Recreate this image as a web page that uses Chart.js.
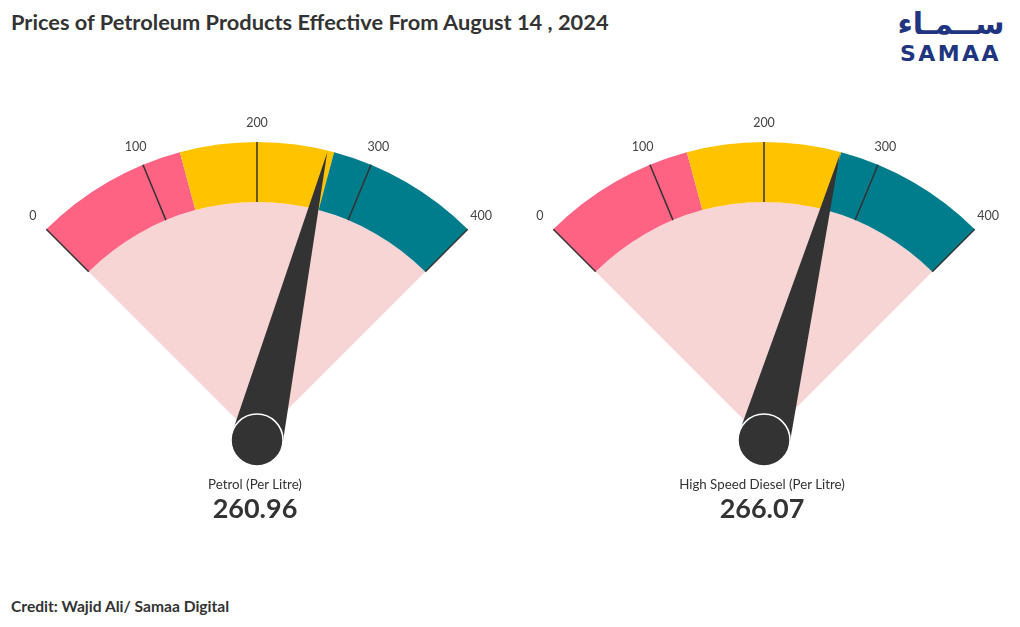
<!DOCTYPE html>
<html>
<head>
<meta charset="utf-8">
<script src="https://cdn.jsdelivr.net/npm/chart.js@4.4.1/dist/chart.umd.min.js"></script>
<style>
  html, body { margin: 0; padding: 0; background: #fff; }
  body { width: 1020px; height: 627px; position: relative; overflow: hidden; font-family: "Lato", "Noto Sans", sans-serif; color: #333; }
  #title { position: absolute; left: 11px; top: 8px; font-size: 21.8px; font-weight: 700; color: #333; white-space: nowrap; }
  #credit { position: absolute; left: 11px; top: 597px; font-size: 15.6px; font-weight: 700; color: #333; white-space: nowrap; }
  .gc { position: absolute; top: 0; width: 510px; height: 627px; }
  .lbl { position: absolute; width: 510px; text-align: center; }
  .name { top: 476px; font-size: 13.3px; color: #333; }
  .val { top: 491px; font-size: 27px; font-weight: 700; color: #333; }
  #logoAr { position: absolute; left: 895px; top: 6px; width: 112px; text-align: center; font-family: "DejaVu Sans", sans-serif; font-weight: 700; font-size: 30px; color: #1f3580; direction: rtl; }
  #logoEn { position: absolute; left: 900px; top: 41px; font-family: "DejaVu Sans", sans-serif; font-weight: 700; font-size: 22px; color: #1f3580; letter-spacing: 2.4px; }
</style>
</head>
<body>
<div id="title">Prices of Petroleum Products Effective From August 14 , 2024</div>
<div id="logoAr">ســمـاء</div>
<div id="logoEn">SAMAA</div>
<div id="credit">Credit: Wajid Ali/ Samaa Digital</div>

<div class="gc" style="left:0px;"><canvas id="g0" width="510" height="627"></canvas>
  <div class="lbl name" id="n0"></div><div class="lbl val" id="v0"></div></div>
<div class="gc" style="left:507px;"><canvas id="g1" width="510" height="627"></canvas>
  <div class="lbl name" id="n1"></div><div class="lbl val" id="v1"></div></div>

<script>
// ---- data ----
const gaugeNames = ['Petrol (Per Litre)', 'High Speed Diesel (Per Litre)'];
const gaugeValues = [260.96, 266.07];
const bandLimits = [0, 133.33, 266.67, 400];
const bandColors = ['#ff6384', '#ffc300', '#007d8c'];
const tickValues = [0, 100, 200, 300, 400];
const tickLabels = ['0', '100', '200', '300', '400'];

const scaleMin = bandLimits[0];
const scaleMax = bandLimits[bandLimits.length - 1];
const bandSizes = bandLimits.slice(1).map((v, i) => v - bandLimits[i]);

const gaugePlugin = {
  id: 'gaugeOverlay',
  afterDatasetsDraw(chart, args, opts) {
    const meta = chart.getDatasetMeta(0);
    const arcs = meta.data;
    const first = arcs[0], last = arcs[arcs.length - 1];
    const cx = first.x, cy = first.y;
    const rOut = first.outerRadius, rIn = first.innerRadius;
    const a0 = first.startAngle, a1 = last.endAngle;
    const ang = v => a0 + (v - scaleMin) / (scaleMax - scaleMin) * (a1 - a0);
    const ctx = chart.ctx;
    ctx.save();
    // ticks
    ctx.strokeStyle = '#333';
    ctx.lineWidth = 1.5;
    tickValues.forEach(v => {
      const a = ang(v);
      ctx.beginPath();
      ctx.moveTo(cx + rIn * Math.cos(a), cy + rIn * Math.sin(a));
      ctx.lineTo(cx + rOut * Math.cos(a), cy + rOut * Math.sin(a));
      ctx.stroke();
    });
    // tick labels
    ctx.fillStyle = '#444';
    ctx.font = '12.5px "Lato", "Noto Sans", sans-serif';
    ctx.textAlign = 'center';
    ctx.textBaseline = 'middle';
    const rLab = rOut + 19;
    tickValues.forEach((v, i) => {
      const a = ang(v);
      ctx.fillText(tickLabels[i], cx + rLab * Math.cos(a), cy + rLab * Math.sin(a));
    });
    // needle
    const value = opts.value;
    const a = ang(value);
    const L = rOut - 2;
    const w = 26;
    ctx.fillStyle = '#333333';
    ctx.beginPath();
    ctx.moveTo(cx + L * Math.cos(a), cy + L * Math.sin(a));
    ctx.lineTo(cx - w * Math.sin(a), cy + w * Math.cos(a));
    ctx.lineTo(cx + w * Math.sin(a), cy - w * Math.cos(a));
    ctx.closePath();
    ctx.fill();
    // hub
    ctx.beginPath();
    ctx.arc(cx, cy, 26, 0, Math.PI * 2);
    ctx.fillStyle = '#333333';
    ctx.fill();
    ctx.strokeStyle = '#ffffff';
    ctx.lineWidth = 1.5;
    ctx.stroke();
    ctx.restore();
  }
};

function makeGauge(id, idx) {
  document.getElementById('n' + idx).textContent = gaugeNames[idx];
  document.getElementById('v' + idx).textContent = gaugeValues[idx].toFixed(2);
  return new Chart(document.getElementById(id), {
    type: 'doughnut',
    data: {
      labels: ['Low', 'Mid', 'High'],
      datasets: [
        { data: bandSizes, backgroundColor: bandColors, borderWidth: 0, weight: 60 },
        { data: [scaleMax - scaleMin], backgroundColor: ['#f7d5d5'], borderWidth: 0, weight: 238 }
      ]
    },
    options: {
      responsive: false,
      animation: false,
      events: [],
      rotation: -45,
      circumference: 90,
      cutout: 0,
      layout: { padding: { top: 142, bottom: 187, left: 30, right: 26 } },
      plugins: {
        legend: { display: false },
        tooltip: { enabled: false },
        gaugeOverlay: { value: gaugeValues[idx] }
      }
    },
    plugins: [gaugePlugin]
  });
}
makeGauge('g0', 0);
makeGauge('g1', 1);
</script>
</body>
</html>
